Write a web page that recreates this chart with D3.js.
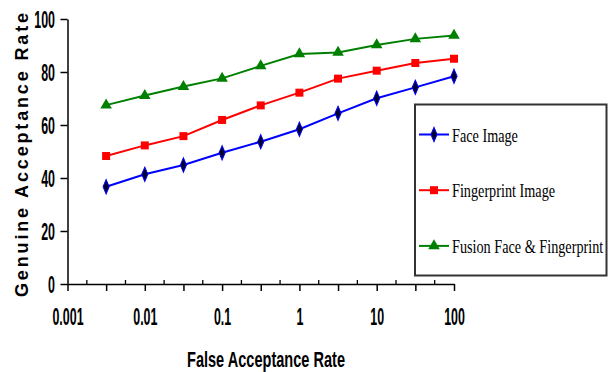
<!DOCTYPE html>
<html>
<head>
<meta charset="utf-8">
<script src="https://cdn.jsdelivr.net/npm/d3@7"></script>
<style>
  body { margin: 0; background: #fff; }
  svg { display: block; }
</style>
</head>
<body>
<div id="chart-area"></div>
<script>
const FIGURE = { WIDTH: 615, HEIGHT: 372 };
const PLOT = { LEFT: 67.5, RIGHT: 454, TOP: 19, BOTTOM: 284 };

// data
const falseAcceptance = [0.00316, 0.01, 0.0316, 0.1, 0.316, 1, 3.16, 10, 31.6, 100];
const faceImage = [36.7, 41.4, 44.9, 49.5, 53.7, 58.4, 64.4, 70.1, 74.2, 78.4];
const fingerprintImage = [48.3, 52.3, 55.8, 61.9, 67.4, 72.2, 77.5, 80.5, 83.4, 85.0];
const fusionImage = [67.5, 71.1, 74.5, 77.6, 82.3, 86.8, 87.4, 90.2, 92.5, 93.8];

const seriesNames = ["Face Image", "Fingerprint Image", "Fusion Face & Fingerprint"];
const xTickValues = [0.001, 0.01, 0.1, 1, 10, 100];
const xTickLabels = ["0.001", "0.01", "0.1", "1", "10", "100"];
const yTickValues = [0, 20, 40, 60, 80, 100];

const series = [
    { name: seriesNames[0], values: faceImage, color: "#0000ff", marker: "diamond" },
    { name: seriesNames[1], values: fingerprintImage, color: "#ff0000", marker: "square" },
    { name: seriesNames[2], values: fusionImage, color: "#008000", marker: "triangle" }
];

let svg = d3.select("#chart-area")
    .append("svg")
        .attr("width", FIGURE.WIDTH)
        .attr("height", FIGURE.HEIGHT);

let x = d3.scaleLog()
    .domain([0.001, 100])
    .range([PLOT.LEFT, PLOT.RIGHT]);

let y = d3.scaleLinear()
    .domain([0, 100])
    .range([PLOT.BOTTOM, PLOT.TOP]);

// half-decade ticks hang below, quarter-decade ticks stand above
let halfTicks = [];
let quarterTicks = [];
xTickValues.forEach((d, i) => {
    halfTicks.push(d);
    if (i < xTickValues.length - 1) {
        halfTicks.push(d * Math.sqrt(10));
        quarterTicks.push(d * Math.pow(10, 0.25));
        quarterTicks.push(d * Math.pow(10, 0.75));
    }
});

const labelFor = d => {
    let i = xTickValues.findIndex(v => Math.abs(Math.log10(v) - Math.log10(d)) < 1e-6);
    return i >= 0 ? xTickLabels[i] : "";
};

let xAxis = d3.axisBottom(x)
    .tickValues(halfTicks)
    .tickSize(7)
    .tickSizeOuter(0)
    .tickFormat(labelFor);

let gx = svg.append("g")
    .attr("class", "x-axis")
    .attr("transform", `translate(0, ${PLOT.BOTTOM})`)
    .call(xAxis);

gx.selectAll(".tick text")
    .attr("y", 0)
    .attr("dy", 0)
    .attr("transform", "translate(0, 41) scale(0.54, 1)")
    .style("font-family", "'Liberation Sans', Arial, sans-serif")
    .style("font-weight", "bold")
    .style("font-size", "23px")
    .attr("fill", "#000");

gx.selectAll(".minor")
    .data(quarterTicks)
    .enter()
    .append("line")
        .attr("class", "minor")
        .attr("x1", d => x(d))
        .attr("x2", d => x(d))
        .attr("y1", 0)
        .attr("y2", -4)
        .attr("stroke", "#000")
        .attr("stroke-width", 1.3);

let yAxis = d3.axisLeft(y)
    .tickValues(yTickValues)
    .tickSize(7)
    .tickSizeOuter(0);

let gy = svg.append("g")
    .attr("class", "y-axis")
    .attr("transform", `translate(${PLOT.LEFT}, 0)`)
    .call(yAxis);

gy.selectAll(".tick text")
    .attr("x", 0)
    .attr("dy", "0.38em")
    .attr("transform", "translate(-12.5, 0) scale(0.54, 1)")
    .style("font-family", "'Liberation Sans', Arial, sans-serif")
    .style("font-weight", "bold")
    .style("font-size", "23px")
    .attr("fill", "#000");

svg.selectAll(".domain, .tick line")
    .attr("stroke", "#000")
    .attr("stroke-width", 1.5);

gx.selectAll(".minor").attr("stroke-width", 1.3);

// axis titles
svg.append("text")
    .attr("transform", "translate(28, 155) rotate(-90)")
    .attr("text-anchor", "middle")
    .attr("textLength", 284)
    .attr("lengthAdjust", "spacing")
    .style("font-family", "'Liberation Sans', Arial, sans-serif")
    .style("font-weight", "bold")
    .style("font-size", "18px")
    .text("Genuine Acceptance Rate");

svg.append("text")
    .attr("x", 187)
    .attr("y", 367)
    .attr("textLength", 158)
    .attr("lengthAdjust", "spacingAndGlyphs")
    .style("font-family", "'Liberation Sans', Arial, sans-serif")
    .style("font-weight", "bold")
    .style("font-size", "22px")
    .text("False Acceptance Rate");

// markers
const markerPath = {
    diamond: d3.symbol().type(d3.symbolDiamond).size(46),
    square: d3.symbol().type(d3.symbolSquare).size(64),
    triangle: d3.symbol().type(d3.symbolTriangle).size(58)
};
const markerFill = s => s.marker === "diamond" ? "#000033" : s.color;

let line = d3.line()
    .x((d, i) => x(falseAcceptance[i]))
    .y(d => y(d));

series.forEach(s => {
    svg.append("path")
        .datum(s.values)
        .attr("d", line)
        .attr("fill", "none")
        .attr("stroke", s.color)
        .attr("stroke-width", 2);

    svg.selectAll(null)
        .data(s.values)
        .enter()
        .append("path")
            .attr("d", markerPath[s.marker])
            .attr("transform", (d, i) => `translate(${x(falseAcceptance[i])}, ${y(d)})` + (s.marker === "diamond" ? " scale(0.85, 1.15)" : ""))
            .attr("fill", markerFill(s))
            .attr("stroke", s.marker === "diamond" ? s.color : "none")
            .attr("stroke-width", 1);
});

// legend
let legend = svg.append("g").attr("class", "legend");
legend.append("rect")
    .attr("x", 415)
    .attr("y", 104.5)
    .attr("width", 191.5)
    .attr("height", 171)
    .attr("fill", "#fff")
    .attr("stroke", "#333")
    .attr("stroke-width", 2);

series.forEach((s, i) => {
    let ly = 134.5 + i * 55.7;
    legend.append("line")
        .attr("x1", 419)
        .attr("x2", 449)
        .attr("y1", ly)
        .attr("y2", ly)
        .attr("stroke", s.color)
        .attr("stroke-width", 2);
    legend.append("path")
        .attr("d", markerPath[s.marker])
        .attr("transform", `translate(434, ${ly})` + (s.marker === "diamond" ? " scale(0.85, 1.15)" : ""))
        .attr("fill", markerFill(s))
        .attr("stroke", s.marker === "diamond" ? s.color : "none");
    legend.append("text")
        .attr("transform", `translate(452, ${ly + 7}) scale(0.79, 1)`)
        .style("font-family", "'Liberation Serif', 'Times New Roman', serif")
        .style("font-size", "18px")
        .attr("fill", "#000")
        .text(s.name);
});
</script>
</body>
</html>
